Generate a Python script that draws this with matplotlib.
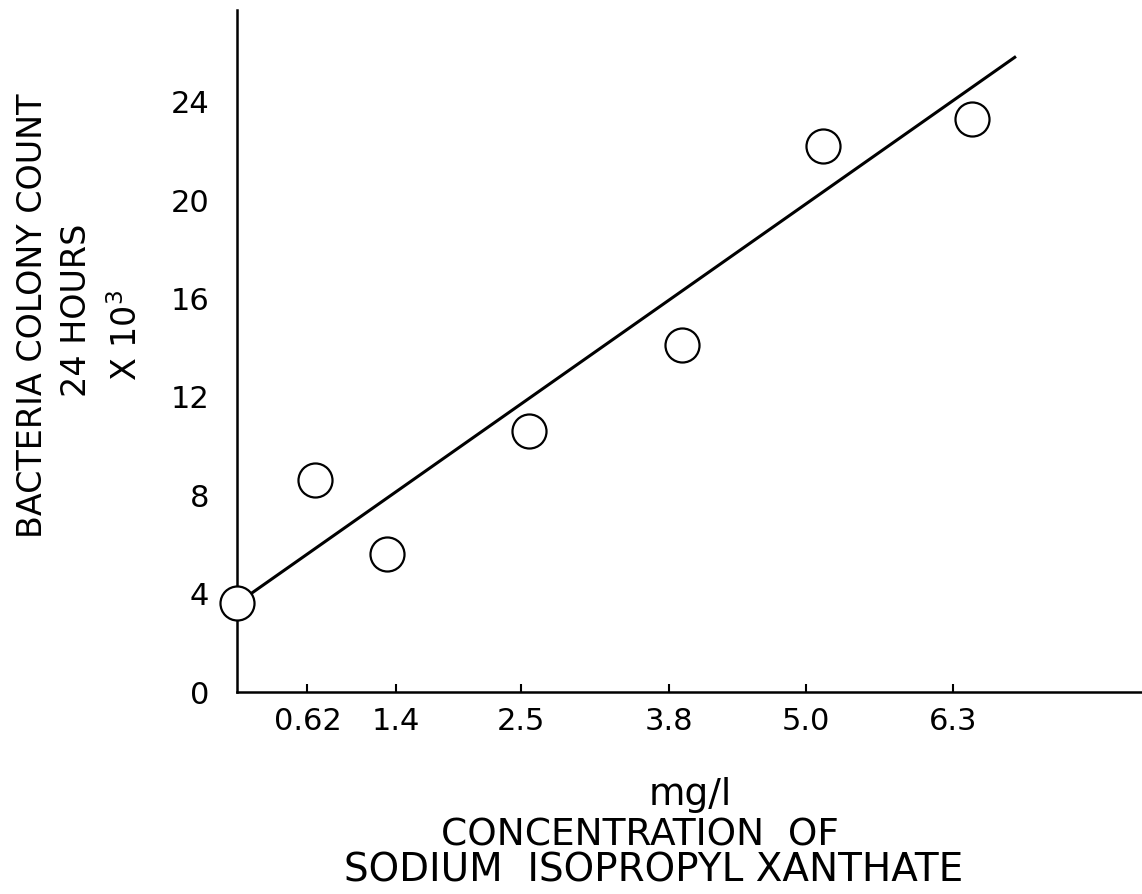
import numpy as np
import matplotlib.pyplot as plt

# datos
conc_ticks = [0.62, 1.4, 2.5, 3.8, 5.0, 6.3]
conc_labels = ['0.62', '1.4', '2.5', '3.8', '5.0', '6.3']
x_points = [0, 0.69, 1.32, 2.57, 3.91, 5.15, 6.46]
colony = [3.6, 8.6, 5.6, 10.6, 14.1, 22.2, 23.3]
fit_x = [0, 6.84]
fit_y = [3.6, 25.8]
y_ticks = [0, 4, 8, 12, 16, 20, 24]

W, H = 1142, 894
fig = plt.figure(figsize=(W / 100, H / 100), dpi=100)
ax = fig.add_axes([237 / W, 1 - 692 / H, 905 / W, 682 / H])

# linea de ajuste y puntos
ax.plot(fit_x, fit_y, color='black', linewidth=2.2, zorder=2, clip_on=False)
ax.plot(x_points, colony, 'o', markersize=24.5, markerfacecolor='white',
        markeredgecolor='black', markeredgewidth=1.6, zorder=3, clip_on=False)

ax.set_xlim(0, 905 / 113.7)
ax.set_ylim(0, 682 / 24.6)

ax.spines['top'].set_visible(False)
ax.spines['right'].set_visible(False)
ax.spines['left'].set_linewidth(1.8)
ax.spines['bottom'].set_linewidth(1.8)

ax.set_xticks(conc_ticks)
ax.set_xticklabels(conc_labels)
ax.set_yticks(y_ticks)
ax.set_yticklabels([str(v) for v in y_ticks])
ax.tick_params(axis='x', direction='in', length=6, width=1.5, pad=11, labelsize=22)
ax.tick_params(axis='y', length=0, pad=20, labelsize=22)

# etiquetas del eje y
fig.text(33 / W, 1 - 316 / H, 'BACTERIA COLONY COUNT', rotation=90,
         ha='center', va='center', fontsize=24)
fig.text(77 / W, 1 - 310 / H, '24 HOURS', rotation=90,
         ha='center', va='center', fontsize=24)
fig.text(127 / W, 1 - 335 / H, r'X $\mathregular{10^3}$', rotation=90,
         ha='center', va='center', fontsize=24)

# etiquetas del eje x
fig.text(690 / W, 1 - 795 / H, 'mg/l', ha='center', va='center', fontsize=27)
fig.text(640 / W, 1 - 835 / H, 'CONCENTRATION  OF', ha='center', va='center', fontsize=27)
fig.text(654 / W, 1 - 870 / H, 'SODIUM  ISOPROPYL XANTHATE', ha='center', va='center', fontsize=28)

fig.savefig('out.png', dpi=100)
